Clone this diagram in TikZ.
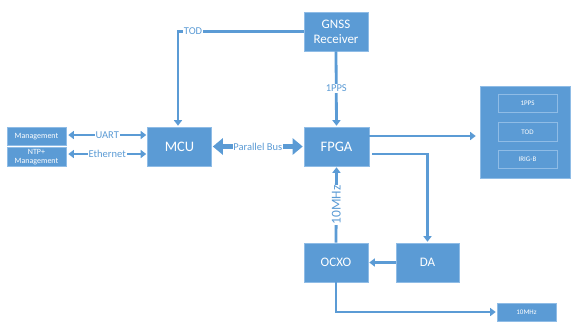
\documentclass[tikz,border=0pt]{standalone}
\usepackage{fontspec}
\setmainfont{Carlito}
\usetikzlibrary{arrows.meta}
\definecolor{obl}{HTML}{5B9BD5}
\definecolor{obd}{HTML}{8FBCE6}
\begin{document}
\begin{tikzpicture}[x=1bp,y=-1bp,
  box/.style={fill=obl,draw=obd,line width=0.6bp,text=white,inner sep=0pt,align=center},
  inbox/.style={draw=obd,line width=0.8bp,text=white,inner sep=0pt,align=center,minimum width=59bp,minimum height=18.5bp,font=\fontsize{7bp}{8bp}\selectfont},
  conn/.style={draw=obl,line width=2.8bp,-{Triangle[width=8bp,length=5.5bp]}},
  conn2/.style={draw=obl,line width=2.8bp,{Triangle[width=8bp,length=5.5bp]}-{Triangle[width=8bp,length=5.5bp]}},
  bus/.style={draw=obl,line width=5.5bp,{Triangle[width=16bp,length=10bp]}-{Triangle[width=16bp,length=10bp]}},
  lab/.style={fill=white,text=obl,inner sep=0.8bp,font=\fontsize{10.5bp}{11bp}\selectfont}]
\useasboundingbox (0,0) rectangle (571,321);
\node[box,minimum width=59bp,minimum height=18bp,font=\fontsize{8bp}{8.5bp}\selectfont] (mgmt) at (36.5,136.5) {Management};
\node[box,minimum width=59bp,minimum height=19bp,font=\fontsize{8bp}{9bp}\selectfont] (ntp) at (36.5,157) {NTP+\\Management};
\node[box,minimum width=64bp,minimum height=39bp,font=\fontsize{14.5bp}{16bp}\selectfont] (mcu) at (179.5,146.5) {MCU};
\node[box,minimum width=65bp,minimum height=39bp,font=\fontsize{14.5bp}{16bp}\selectfont] (fpga) at (336.5,146.5) {FPGA};
\node[box,minimum width=64bp,minimum height=39bp,font=\fontsize{13bp}{15bp}\selectfont] (gnss) at (336,31.5) {GNSS\\Receiver};
\node[box,minimum width=64bp,minimum height=39bp,font=\fontsize{13bp}{15bp}\selectfont] (ocxo) at (336,262.5) {OCXO};
\node[box,minimum width=63bp,minimum height=39bp,font=\fontsize{13bp}{15bp}\selectfont] (da) at (427.5,262.5) {DA};
\node[box,minimum width=90bp,minimum height=92bp] (out) at (525,132) {};
\node[inbox] (pps) at (527.5,103.5) {1PPS};
\node[inbox] (tod) at (527.5,132) {TOD};
\node[inbox] (irig) at (527.5,159.5) {IRIG-B};
\node[box,minimum width=59bp,minimum height=18bp,font=\fontsize{7bp}{8bp}\selectfont] (ten) at (526.5,312) {10MHz};
% connector end points
\coordinate (uA) at ([xshift=2bp,yshift=1.5bp]mgmt.east);
\coordinate (eA) at ([xshift=2bp,yshift=3bp]ntp.east);
\coordinate (mW) at ([xshift=-1bp]mcu.west);
\coordinate (fE1) at ([yshift=10.5bp]fpga.east);
\coordinate (fE2) at ([xshift=3bp,yshift=-7.5bp]fpga.east);
\coordinate (oW) at ([xshift=-4bp]out.west);
% connectors
\draw[conn2] (uA) -- (mW |- uA) node[midway,lab] {UART};
\draw[conn2] (eA) -- (mW |- eA) node[midway,lab] {Ethernet};
\draw[bus] ([xshift=1bp]mcu.east) -- ([xshift=-1bp]fpga.west) node[midway,lab] {Parallel Bus};
\draw[conn] (gnss.west) -| ([xshift=-1.5bp,yshift=1bp]mcu.north) node[pos=0.44,lab] {TOD};
\draw[conn] (gnss.south) -- ([yshift=1bp]fpga.north) node[midway,lab] {1PPS};
\draw[conn] (fE1) -- (oW |- fE1);
\draw[conn] (fE2) -| ([yshift=1bp]da.north);
\draw[conn] (da.west) -- ([xshift=1bp]ocxo.east);
\draw[conn] (ocxo.north) -- ([yshift=-1bp]fpga.south) node[midway,lab,rotate=90,font=\fontsize{13.5bp}{14bp}\selectfont] {10MHz};
\draw[conn] (ocxo.south) |- ([xshift=-1bp]ten.west);
\end{tikzpicture}
\end{document}
